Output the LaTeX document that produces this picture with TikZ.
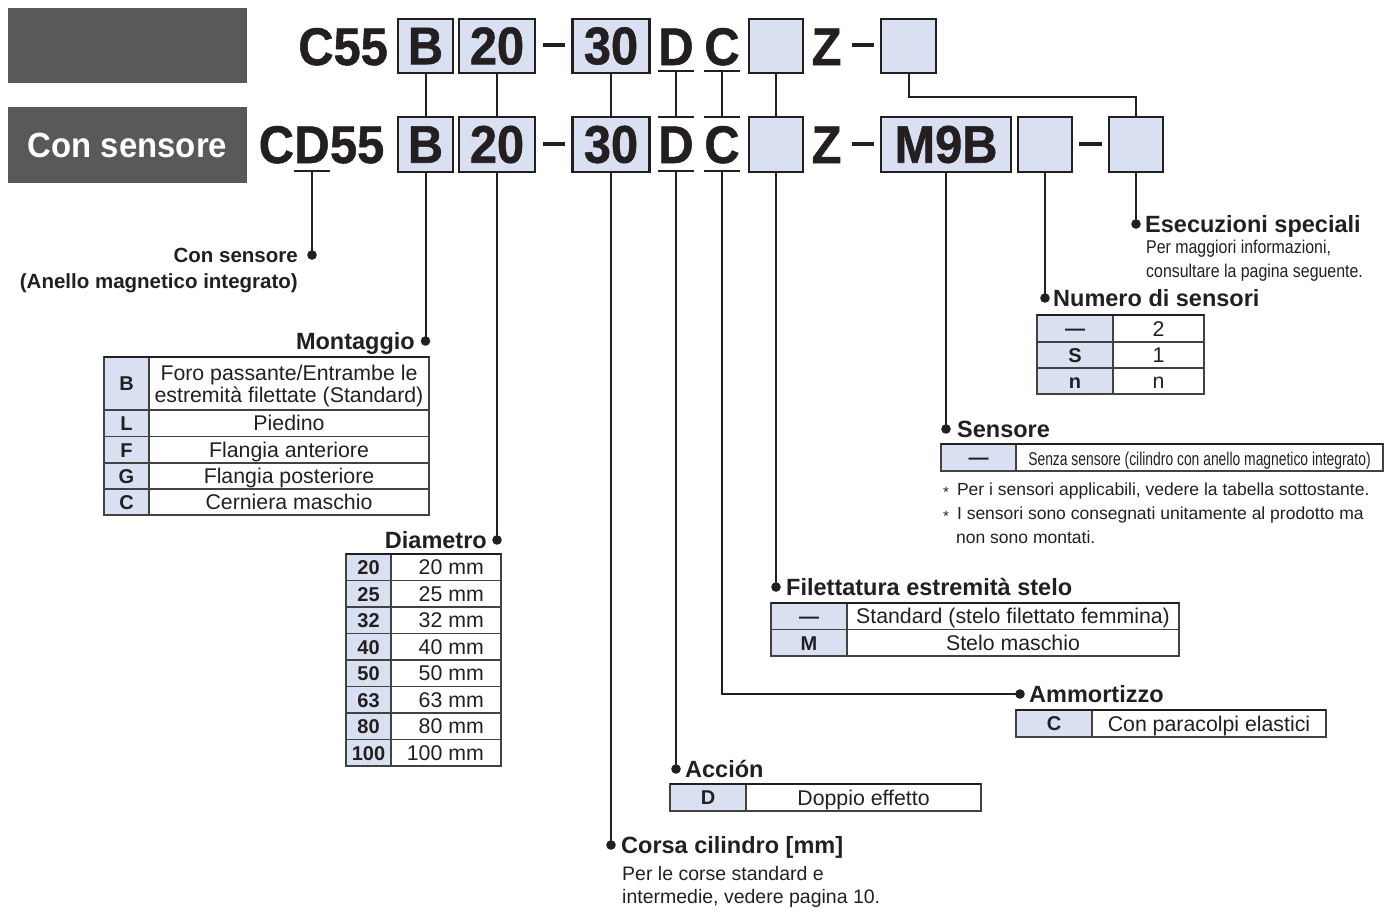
\documentclass[tikz,border=0pt]{standalone}
\usepackage{fontspec}
\setmainfont{Liberation Sans}
\newfontfamily\condfont[FakeStretch=0.86]{Liberation Sans}
\newfontfamily\narrowfont[FakeStretch=0.75]{Liberation Sans}
\newfontfamily\codefont[FakeStretch=0.92, BoldFeatures={FakeBold=1}]{Liberation Sans}
\newfontfamily\panelfont[FakeStretch=0.94]{Liberation Sans}
\definecolor{boxblue}{RGB}{216,224,241}
\definecolor{panelgray}{RGB}{88,89,91}
\definecolor{ink}{RGB}{35,31,32}
\tikzset{
  graybox/.style={fill=panelgray, minimum width=239pt, minimum height=75pt, inner sep=0pt, text=white, font=\panelfont\fontsize{35}{38}\selectfont\bfseries},
  code/.style={font=\codefont\fontsize{53}{53}\selectfont\bfseries, text=ink, inner sep=0pt},
  codebox/.style={draw=ink, line width=2.4pt, fill=boxblue, minimum height=54.5pt, inner sep=0pt, font=\codefont\fontsize{53}{53}\selectfont\bfseries, text=ink},
  codebar/.style={draw=ink, line width=4pt},
  uline/.style={draw=ink, line width=2.6pt},
  conn/.style={draw=ink, line width=2pt},
  head/.style={font=\fontsize{23.5}{28}\selectfont\bfseries, text=ink, inner sep=0pt},
  side/.style={font=\fontsize{20.5}{24}\selectfont\bfseries, text=ink, inner sep=0pt},
  sub/.style={font=\condfont\fontsize{18.5}{22}\selectfont, text=ink, inner sep=0pt, anchor=base west},
  subb/.style={font=\fontsize{19.5}{22}\selectfont, text=ink, inner sep=0pt, anchor=base west},
  note/.style={font=\fontsize{17.5}{20}\selectfont, text=ink, inner sep=0pt, anchor=base west},
  keyt/.style={font=\fontsize{20}{22}\selectfont\bfseries, text=ink, inner sep=0pt, anchor=base},
  valt/.style={font=\fontsize{21.3}{24}\selectfont, text=ink, inner sep=0pt, anchor=base},
  tline/.style={draw=ink!85, line width=1.3pt},
  ttop/.style={draw=ink, line width=2.6pt},
}
% #1 x left, #2 x divider, #3 x right, #4 y top, #5 y bottom, #6 key, #7 node name
\newcommand\trow[7]{%
  \fill[boxblue] (#1,#4) rectangle (#2,#5);
  \draw[tline] (#1,#4) rectangle (#3,#5) (#2,#4) -- (#2,#5);
  \node[keyt] (#7) at ({(#1+#2)/2},{(#4+#5)/2+7.3}) {#6};
}
\begin{document}
\begin{tikzpicture}[x=1pt,y=-1pt]
\useasboundingbox (0,0) rectangle (1393,908);

% ---------- gray panels
\node[graybox] (g1) at (127.5,45.5) {};
\node[graybox, minimum height=76pt] (g2) at (127.5,145) {Con sensore};

% ---------- row 1
\node[code,anchor=base east] (r1a) at (388,65) {C55};
\node[codebox,minimum width=55pt] (r1B) at (425.5,46) {B};
\node[codebox,minimum width=76pt] (r1n20) at (497,46) {20};
\node[codebox,minimum width=77pt] (r1n30) at (611,46) {30};
\node[code,anchor=base] (r1D) at (676,65) {D};
\node[code,anchor=base] (r1C) at (722,65) {C};
\node[codebox,minimum width=54pt] (r1e1) at (776,46) {};
\node[code,anchor=base] (r1Z) at (826.5,65) {Z};
\node[codebox,minimum width=55pt] (r1e2) at (908.5,46) {};
\draw[codebar] (543,45) -- (565,45);
\draw[codebar] (852,45) -- (874,45);

% ---------- row 2
\node[code,anchor=base] (r2D0) at (312,163) {D};
\node[code,anchor=base east] (r2C0) at (r2D0.base west) {C};
\node[code,anchor=base west] (r2f) at (r2D0.base east) {55};
\node[codebox,minimum width=55pt] (r2B) at (425.5,144.5) {B};
\node[codebox,minimum width=76pt] (r2n20) at (497,144.5) {20};
\node[codebox,minimum width=77pt] (r2n30) at (611,144.5) {30};
\node[code,anchor=base] (r2D) at (676,163) {D};
\node[code,anchor=base] (r2C) at (722,163) {C};
\node[codebox,minimum width=54pt] (r2e1) at (776,144.5) {};
\node[code,anchor=base] (r2Z) at (826.5,163) {Z};
\node[codebox,minimum width=130pt] (r2M) at (946,144.5) {M9B};
\node[codebox,minimum width=54pt] (r2e3) at (1045,144.5) {};
\node[codebox,minimum width=54pt] (r2e4) at (1136,144.5) {};
\draw[codebar] (543,144) -- (565,144);
\draw[codebar] (852,144) -- (874,144);
\draw[codebar] (1079,144) -- (1102,144);

% underlines and bars
\foreach \n in {r1D,r1C}
  \draw[uline] ([yshift=-6pt]\n.base west) -- ([yshift=-6pt]\n.base east);
\foreach \n in {r2D,r2C}{
  \draw[uline] ([yshift=46pt]\n.base west) -- ([yshift=46pt]\n.base east);
  \draw[uline] ([yshift=-8pt]\n.base west) -- ([yshift=-8pt]\n.base east);
}
\draw[uline] ([yshift=-8pt]r2D0.base west) -- ([yshift=-8pt]r2D0.base east);

% ---------- connectors row 1 -> row 2
\draw[conn] (r1B.south) -- (r2B.north);
\draw[conn] (r1n20.south) -- (r2n20.north);
\draw[conn] (r1n30.south) -- (r2n30.north);
\draw[conn] ([yshift=-6pt]r1D.base) -- ([yshift=46pt]r2D.base);
\draw[conn] ([yshift=-6pt]r1C.base) -- ([yshift=46pt]r2C.base);
\draw[conn] (r1e1.south) -- (r2e1.north);
\draw[conn] (r1e2.south) -- ++(0,23) -| (r2e4.north);

% ---------- dot coordinates
\coordinate (dCon) at (312,255);
\coordinate (dMon) at (425.5,341);
\coordinate (dDia) at (497,540);
\coordinate (dCor) at (611,845);
\coordinate (dAcc) at (676,769);
\coordinate (dAmm) at (1020,694);
\coordinate (dFil) at (776,587);
\coordinate (dSen) at (946,429);
\coordinate (dNum) at (1045,298);
\coordinate (dEse) at (1136,224);

% ---------- connectors row 2 -> labels
\draw[conn] ([yshift=-8pt]r2D0.base) -- (dCon);
\draw[conn] (r2B.south) -- (dMon);
\draw[conn] (r2n20.south) -- (dDia);
\draw[conn] (r2n30.south) -- (dCor);
\draw[conn] ([yshift=-8pt]r2D.base) -- (dAcc);
\draw[conn] ([yshift=-8pt]r2C.base) |- (dAmm);
\draw[conn] (r2e1.south) -- (dFil);
\draw[conn] (r2M.south) -- (dSen);
\draw[conn] (r2e3.south) -- (dNum);
\draw[conn] (r2e4.south) -- (dEse);
\foreach \d in {dCon,dMon,dDia,dCor,dAcc,dAmm,dFil,dSen,dNum,dEse}
  \fill[ink] (\d) circle[radius=4.8pt];

% ---------- Con sensore
\node[side,anchor=base east] (lCon) at (298,262) {Con sensore};
\node[side,anchor=base east] (lCon2) at (298,288) {(Anello magnetico integrato)};

% ---------- Montaggio
\node[head,anchor=base east] (hMon) at (415,349) {Montaggio};
\trow{104}{149}{429}{357}{410}{B}{mB}
\trow{104}{149}{429}{410}{436.5}{L}{mL}
\trow{104}{149}{429}{436.5}{463}{F}{mF}
\trow{104}{149}{429}{463}{489}{G}{mG}
\trow{104}{149}{429}{489}{515}{C}{mC}
\draw[ttop] (104,357) -- (429,357);
\node[valt] (mBv1) at (289,380) {Foro passante/Entrambe le};
\node[valt] (mBv2) at (289,402.5) {estremità filettate (Standard)};
\node[valt] (mLv) at (289,430.5) {Piedino};
\node[valt] (mFv) at (289,457.3) {Flangia anteriore};
\node[valt] (mGv) at (289,483.5) {Flangia posteriore};
\node[valt] (mCv) at (289,509.5) {Cerniera maschio};

% ---------- Diametro
\node[head,anchor=base east] (hDia) at (487,548) {Diametro};
\foreach \k [count=\i from 0] in {20,25,32,40,50,63,80,100}{
  \pgfmathsetmacro\yt{554+26.5*\i}
  \pgfmathsetmacro\yb{\yt+26.5}
  \trow{346}{391}{501}{\yt}{\yb}{\k}{dk\k}
  \node[valt,anchor=base east] (dv\k) at (484,\yt+20.75) {\k\ mm};
}
\draw[ttop] (346,554) -- (501,554);

% ---------- Esecuzioni speciali
\node[head,anchor=base west] (hEse) at (1145,232) {Esecuzioni speciali};
\node[sub] (sEse1) at (1146,253) {Per maggiori informazioni,};
\node[sub] (sEse2) at (1146,277) {consultare la pagina seguente.};

% ---------- Numero di sensori
\node[head,anchor=base west] (hNum) at (1053,306) {Numero di sensori};
\trow{1037}{1113}{1204}{315}{342}{—}{nk1}
\trow{1037}{1113}{1204}{342}{368}{S}{nk2}
\trow{1037}{1113}{1204}{368}{394}{n}{nk3}
\draw[ttop] (1037,315) -- (1204,315);
\node[valt] (nv1) at (1158.5,336) {2};
\node[valt] (nv2) at (1158.5,362.5) {1};
\node[valt] (nv3) at (1158.5,388.5) {n};

% ---------- Sensore
\node[head,anchor=base west] (hSen) at (957,437) {Sensore};
\trow{941}{1016}{1383}{444}{471}{—}{sk1}
\draw[ttop] (941,444) -- (1383,444);
\node[valt,font=\narrowfont\fontsize{18.5}{22}\selectfont] (sv1) at (1199.5,465) {Senza sensore (cilindro con anello magnetico integrato)};
\node[note] (n1) at (943,495) {\raisebox{-2pt}{\fontsize{15}{15}\selectfont *}\hspace{8pt}Per i sensori applicabili, vedere la tabella sottostante.};
\node[note] (n2) at (943,519) {\raisebox{-2pt}{\fontsize{15}{15}\selectfont *}\hspace{8pt}I sensori sono consegnati unitamente al prodotto ma};
\node[note] (n3) at (956,543) {non sono montati.};

% ---------- Filettatura
\node[head,anchor=base west] (hFil) at (786,595) {Filettatura estremità stelo};
\trow{771}{847}{1179}{603}{629.5}{—}{fk1}
\trow{771}{847}{1179}{629.5}{656}{M}{fk2}
\draw[ttop] (771,603) -- (1179,603);
\node[valt] (fv1) at (1013,623.5) {Standard (stelo filettato femmina)};
\node[valt] (fv2) at (1013,650.5) {Stelo maschio};

% ---------- Ammortizzo
\node[head,anchor=base west] (hAmm) at (1029,702) {Ammortizzo};
\trow{1016}{1092}{1326}{710}{737}{C}{ak1}
\draw[ttop] (1016,710) -- (1326,710);
\node[valt] (av1) at (1209,731) {Con paracolpi elastici};

% ---------- Accion
\node[head,anchor=base west] (hAcc) at (685,777) {Acción};
\trow{670}{746}{981}{784}{811}{D}{ck1}
\draw[ttop] (670,784) -- (981,784);
\node[valt] (cv1) at (863.5,805) {Doppio effetto};

% ---------- Corsa
\node[head,anchor=base west] (hCor) at (621,853) {Corsa cilindro [mm]};
\node[subb] (sCor1) at (622,880) {Per le corse standard e};
\node[subb] (sCor2) at (622,903) {intermedie, vedere pagina 10.};
\end{tikzpicture}
\end{document}
